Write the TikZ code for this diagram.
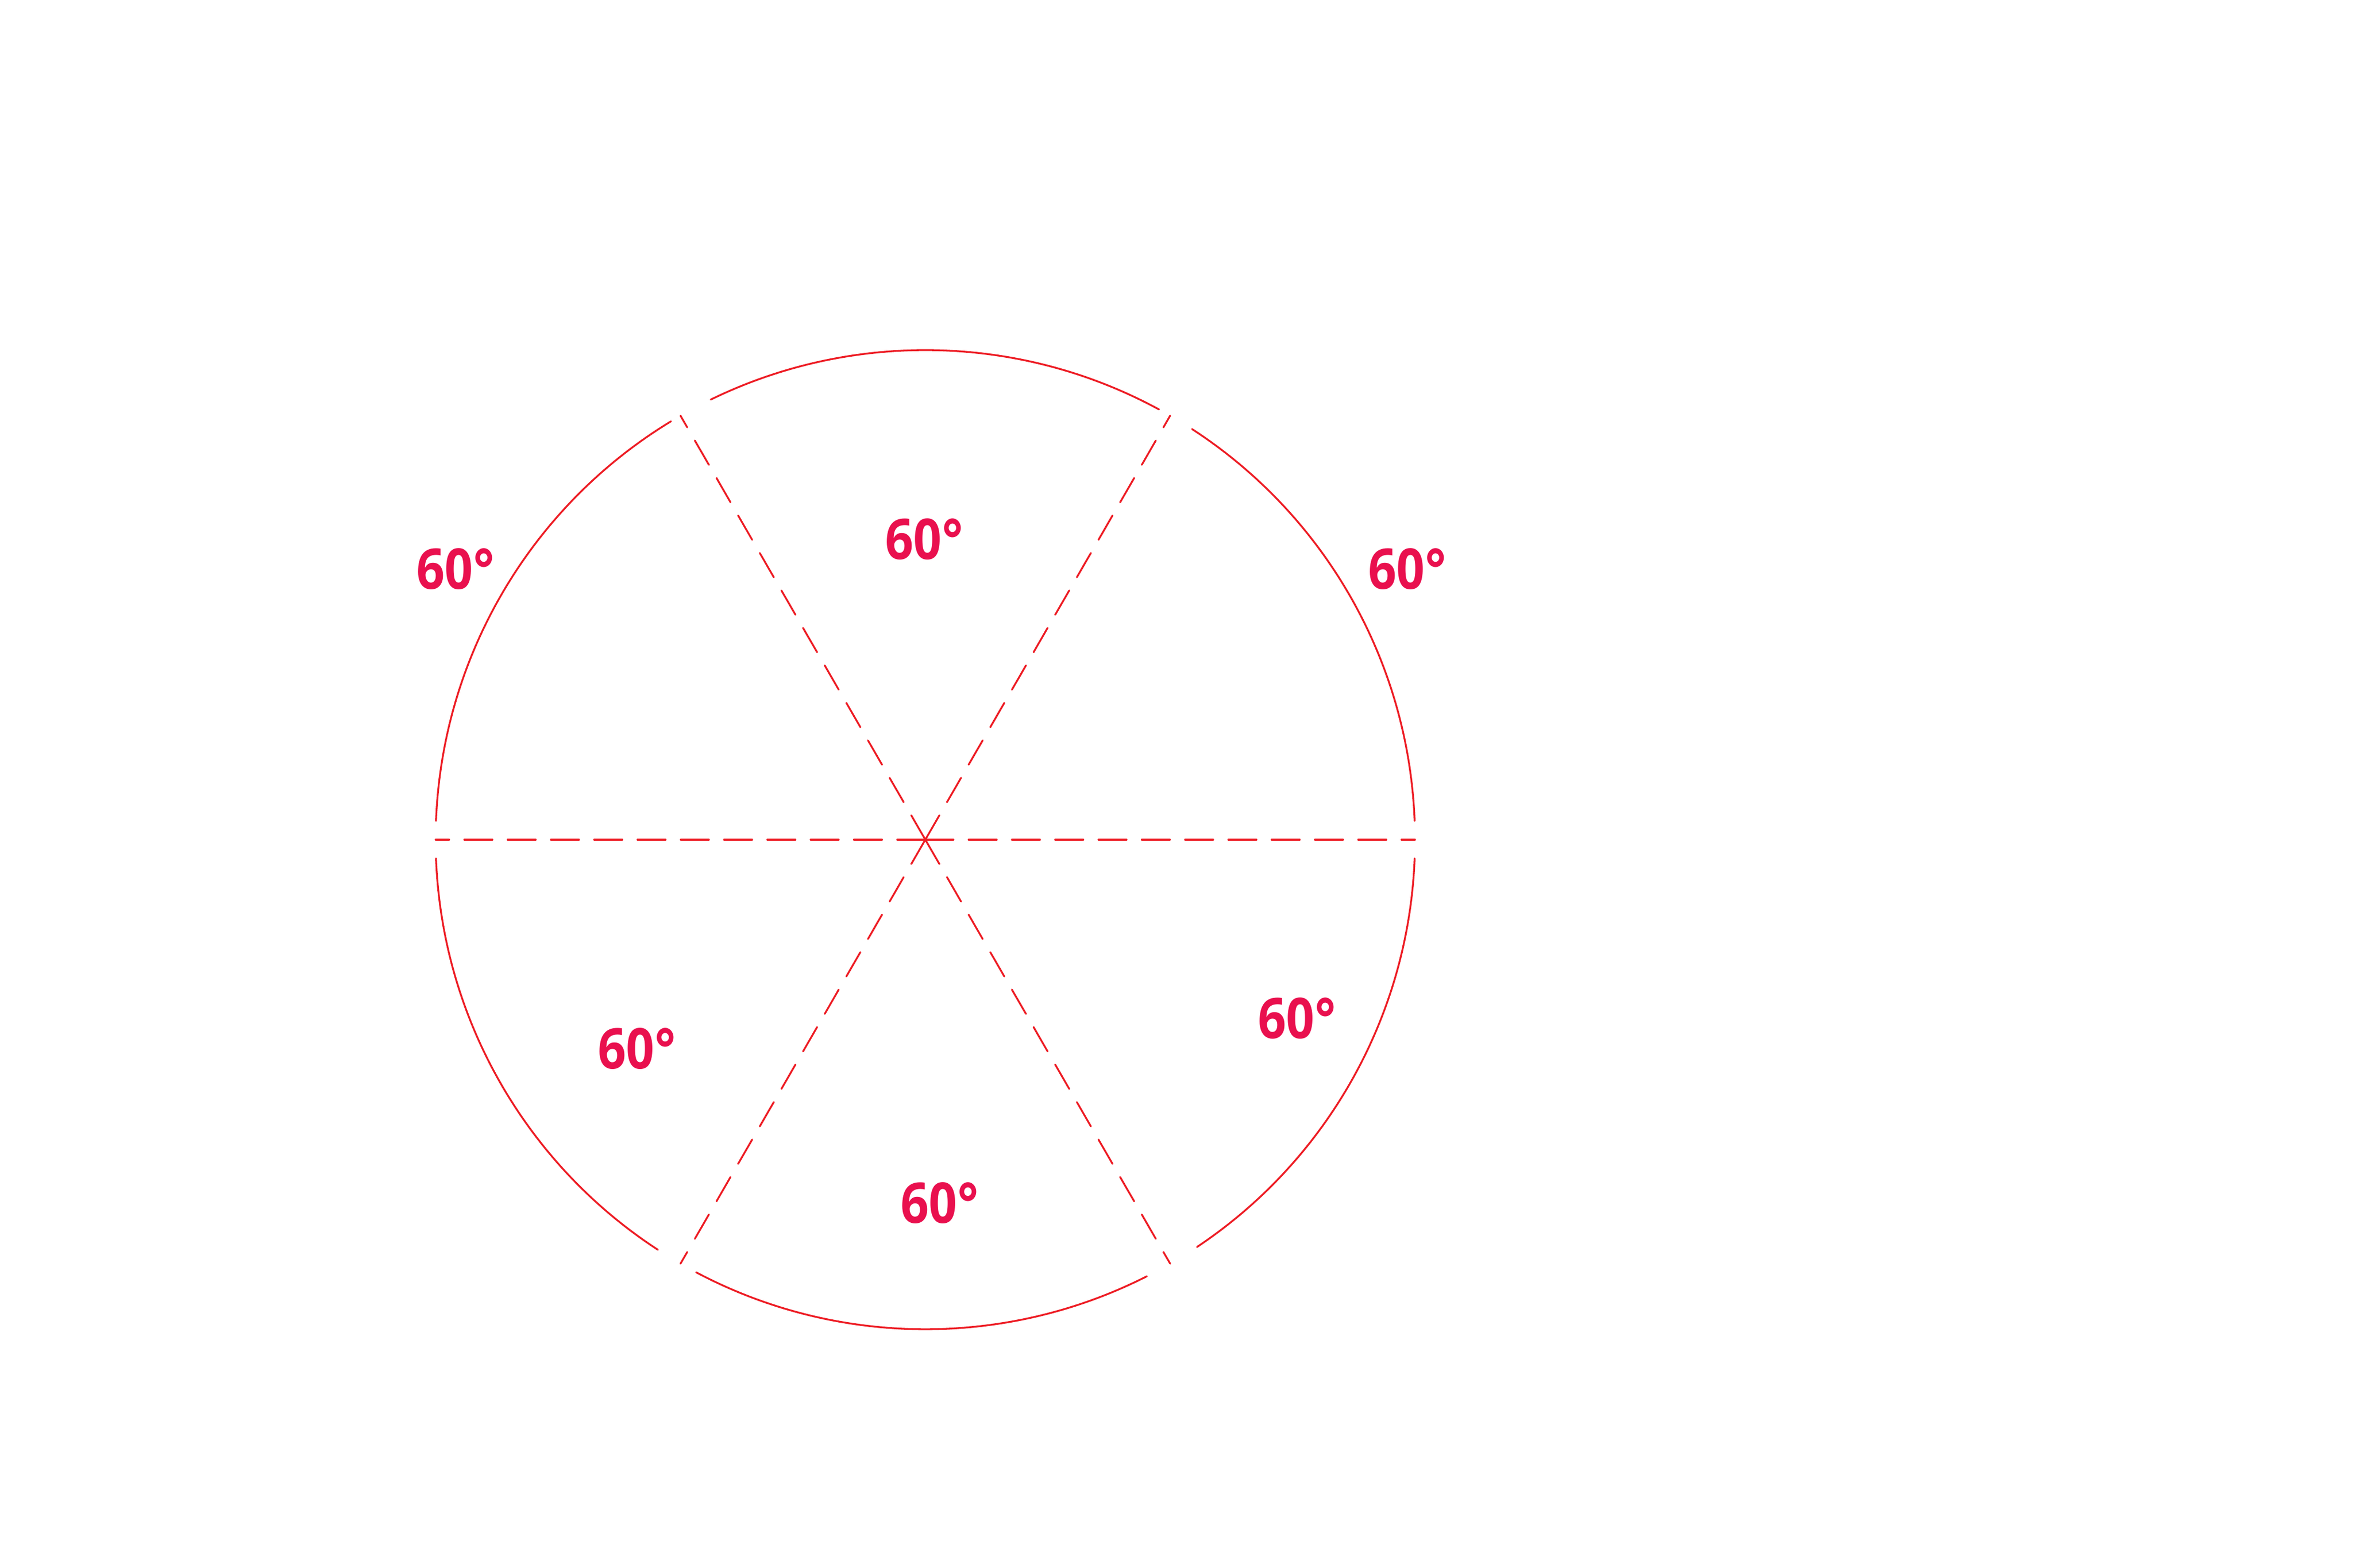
\documentclass[tikz,border=0pt]{standalone}
\usepackage{fontspec}
\newfontfamily\anglefont{Open Sans}[FakeStretch=0.88]
\usepackage{tikz}
\usetikzlibrary{positioning}
\definecolor{rimred}{RGB}{237,28,36}
\definecolor{anglered}{RGB}{233,16,78}

\begin{document}
\begin{tikzpicture}[
  spoke/.style={rimred,line width=0.033cm,line cap=round,dash pattern=on 0.51cm off 0.275cm},
  rim/.style={rimred,line width=0.033cm,line cap=round},
  every node/.style={text=anglered,inner sep=0pt,font=\anglefont\bfseries\fontsize{29}{30}\selectfont}]

  \useasboundingbox (0,0) rectangle (42.67,28.44);

  % Centre and rim points
  \coordinate (O) at (16.78,13.21);
  \foreach \a in {0,60,...,300} {
    \path (O) ++(\a:8.88) coordinate (p\a);
  }

  % Dashed radii
  \foreach \a in {0,60,...,300} {
    \draw[spoke] (O) -- (p\a);
  }

  % Circle, broken where the radii meet it
  \foreach \s/\e in {2.2/57.0,61.5/116.0,121.3/177.8,182.2/236.9,242.1/296.9,303.7/357.8} {
    \draw[rim] (O) ++(\s:8.88) arc[start angle=\s,end angle=\e,radius=8.88];
  }

  % Angle labels
  \node (atop)   at (16.76,18.66) {60°};
  \node (aleft)  at (8.26,18.12)  {60°};
  \node (aright) at (25.52,18.12) {60°};
  \node (alowl)  at (11.55,9.42)  {60°};
  \node (abot)   at (17.04,6.62)  {60°};
  \node (alowr)  at (23.52,9.97)  {60°};
\end{tikzpicture}
\end{document}
